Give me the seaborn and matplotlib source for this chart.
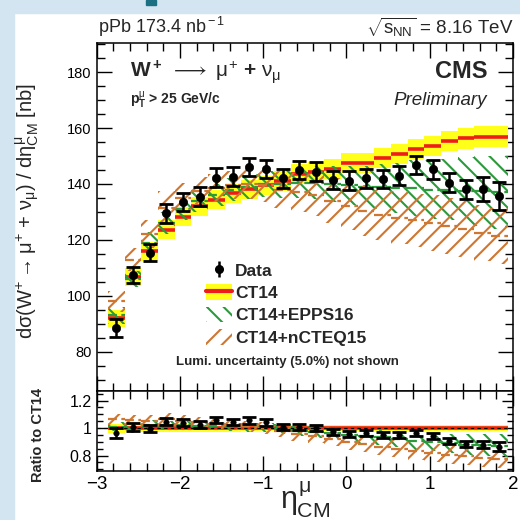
import numpy as np
import pandas as pd
import seaborn as sns
import matplotlib.pyplot as plt
from matplotlib.patches import Patch, Rectangle
from matplotlib.lines import Line2D
from matplotlib.ticker import MultipleLocator, FixedLocator, FixedFormatter

# bin edges in eta_CM
eta_edges = [-2.865, -2.665, -2.465, -2.265, -2.065, -1.865, -1.665, -1.465, -1.265,
             -1.065, -0.865, -0.665, -0.465, -0.265, -0.065, 0.135, 0.335, 0.535,
             0.735, 0.935, 1.135, 1.335, 1.535, 1.735, 1.935]

# measured cross section [nb]
data_xs = [88.5, 107.5, 115.4, 129.5, 133.5, 135.5, 142.3, 142.6, 146.0, 145.4, 142.0, 145.0,
           144.4, 141.4, 141.2, 142.0, 141.8, 143.0, 146.8, 145.2, 140.5, 138.1, 138.1, 135.7]
data_err = [3.3, 3.0, 3.0, 3.3, 3.3, 3.3, 3.3, 3.3, 3.3, 3.3, 3.3, 3.3,
            3.3, 3.3, 3.3, 3.3, 3.3, 3.3, 3.3, 3.3, 3.3, 3.5, 4.3, 5.0]

# CT14
ct14 = [92.0, 106.7, 116.0, 123.6, 128.3, 132.1, 134.3, 136.7, 138.1, 139.5, 141.0, 143.6,
        144.4, 145.4, 147.4, 147.4, 149.2, 150.6, 152.4, 153.6, 155.4, 156.3, 156.9, 156.9]
ct14_err = [3.0, 3.2, 3.4, 3.4, 3.4, 3.4, 3.4, 3.4, 3.4, 3.4, 3.5, 3.5,
            3.5, 3.5, 3.6, 3.6, 3.6, 3.6, 3.6, 3.6, 3.7, 3.7, 3.7, 3.7]

# CT14+EPPS16
epps16 = [93.0, 106.0, 119.0, 126.0, 131.0, 134.0, 136.0, 138.0, 139.0, 140.0, 140.0, 140.5,
          140.5, 140.0, 139.5, 139.0, 139.0, 138.5, 138.5, 138.0, 138.0, 137.5, 137.5, 137.0]
epps16_err = [3.0, 3.0, 4.0, 4.0, 4.0, 4.0, 4.0, 4.0, 4.5, 4.5, 5.0, 5.5,
              6.0, 6.5, 7.0, 7.5, 8.0, 9.0, 10.0, 10.5, 11.0, 12.0, 12.5, 13.0]

# CT14+nCTEQ15
ncteq15 = [98.0, 113.0, 122.0, 131.5, 135.0, 137.5, 138.5, 139.5, 140.0, 139.5, 138.0, 137.0,
           136.0, 134.0, 132.0, 130.5, 129.0, 128.0, 127.0, 126.0, 125.0, 124.0, 122.5, 121.5]
ncteq15_err = [3.6, 4.2, 5.0, 6.0, 5.5, 5.0, 5.0, 5.0, 5.5, 6.0, 6.5, 7.0,
               7.5, 8.0, 8.5, 9.0, 9.0, 9.5, 9.5, 10.0, 10.0, 10.0, 10.0, 10.0]

YELLOW = "#ffff1a"
RED = "#ee1c1c"
GREEN = "#2a9a3a"
ORANGE = "#cf7630"

sns.set_style("ticks")
plt.rcParams["font.family"] = ["Liberation Sans", "DejaVu Sans"]
plt.rcParams["mathtext.fontset"] = "custom"
plt.rcParams["mathtext.rm"] = "Liberation Sans"
plt.rcParams["mathtext.it"] = "Liberation Sans"
plt.rcParams["mathtext.bf"] = "Liberation Sans:bold"
plt.rcParams["hatch.linewidth"] = 1.5

edges = np.array(eta_edges)
centers = 0.5 * (edges[:-1] + edges[1:])
df = pd.DataFrame({"eta": centers, "xs": data_xs, "err": data_err, "ct14": ct14,
                   "ct14_err": ct14_err, "epps": epps16, "epps_err": epps16_err,
                   "ncteq": ncteq15, "ncteq_err": ncteq15_err})
df["ratio"] = df["xs"] / df["ct14"]
df["ratio_err"] = df["err"] / df["ct14"]

fig = plt.figure(figsize=(5.2, 5.2), dpi=100)
fig.patches.append(Rectangle((0, 0), 14 / 520, 1, transform=fig.transFigure,
                             color="#d2e5f1", zorder=-10))
fig.patches.append(Rectangle((0, 1 - 13 / 520), 1, 13 / 520, transform=fig.transFigure,
                             color="#d2e5f1", zorder=-10))
fig.patches.append(Rectangle((146 / 520, 1 - 5 / 520), 10 / 520, 5 / 520,
                             transform=fig.transFigure, color="#1b6f82", zorder=-9))

ax1 = fig.add_axes([96.7 / 520, 1 - 391 / 520, 416.3 / 520, 348 / 520])
ax2 = fig.add_axes([96.7 / 520, 1 - 470.7 / 520, 416.3 / 520, 79.7 / 520])


def step(v):
    v = np.asarray(v, dtype=float)
    return np.append(v, v[-1])


def draw_bands(ax, c, ce, e, ee, n, ne):
    ax.fill_between(edges, step(c - ce), step(c + ce), step="post", color=YELLOW, lw=0, zorder=1)
    ax.hlines(c, edges[:-1], edges[1:], color=RED, lw=2.6, zorder=2)
    ax.fill_between(edges, step(e - ee), step(e + ee), step="post", facecolor="none",
                    edgecolor=GREEN, hatch="\\\\", lw=0, zorder=3)
    ax.hlines(e, edges[:-1], edges[1:], color=GREEN, lw=1.6, ls=(0, (4, 2)), zorder=3)
    ax.fill_between(edges, step(n - ne), step(n + ne), step="post", facecolor="none",
                    edgecolor=ORANGE, hatch="//", lw=0, zorder=4)
    ax.hlines(n, edges[:-1], edges[1:], color=ORANGE, lw=1.6, ls=(0, (4, 2)), zorder=4)


# top panel
c = df["ct14"].values
draw_bands(ax1, c, df["ct14_err"].values, df["epps"].values, df["epps_err"].values,
           df["ncteq"].values, df["ncteq_err"].values)
ax1.errorbar(df["eta"], df["xs"], yerr=df["err"], fmt="none", ecolor="black",
             elinewidth=1.8, capsize=5, capthick=2, zorder=6)
sns.scatterplot(data=df, x="eta", y="xs", ax=ax1, color="black", s=36,
                edgecolor="black", zorder=7, legend=False)

# ratio panel
draw_bands(ax2, c / c, df["ct14_err"].values / c, df["epps"].values / c,
           df["epps_err"].values / c, df["ncteq"].values / c, df["ncteq_err"].values / c)
ax2.axhline(1, color="black", lw=0.8, ls=(0, (3, 3)), zorder=5)
ax2.errorbar(df["eta"], df["ratio"], yerr=df["ratio_err"], fmt="none", ecolor="black",
             elinewidth=1.8, capsize=5, capthick=2, zorder=6)
sns.scatterplot(data=df, x="eta", y="ratio", ax=ax2, color="black", s=16,
                edgecolor="black", zorder=7, legend=False)

for ax in (ax1, ax2):
    ax.set_xlim(-3, 2)
    ax.xaxis.set_major_locator(MultipleLocator(1))
    ax.xaxis.set_minor_locator(MultipleLocator(0.2))
    ax.tick_params(which="both", direction="in", top=True, right=True, colors="black")
    ax.tick_params(which="major", length=11, width=1)
    ax.tick_params(which="minor", length=5.5, width=1)
    ax.set_xlabel("")
    ax.set_ylabel("")
    for s in ax.spines.values():
        s.set_linewidth(1.1)
        s.set_color("black")

ax1.set_ylim(66, 190.4)
ax1.yaxis.set_major_locator(MultipleLocator(20))
ax1.yaxis.set_minor_locator(MultipleLocator(5))
ax1.tick_params(axis="x", labelbottom=False)
ax1.tick_params(axis="y", labelsize=10.5)
ax1.yaxis.set_major_formatter(plt.FuncFormatter(lambda v, p: f"{v:.0f}" if v >= 80 else ""))

ax2.set_ylim(0.69, 1.27)
ax2.yaxis.set_major_locator(FixedLocator([0.8, 1.0, 1.2]))
ax2.yaxis.set_major_formatter(FixedFormatter(["0.8", "1", "1.2"]))
ax2.yaxis.set_minor_locator(MultipleLocator(0.05))
ax2.tick_params(axis="y", labelsize=11.5, which="major", length=8)
ax2.tick_params(axis="y", which="minor", length=4)
ax2.tick_params(axis="x", labelsize=13.5, pad=4)

# texts
fig.text(98 / 520, 1 - 27 / 520, r"pPb 173.4 nb$^{\rm -1}$", fontsize=13, va="center", ha="left")
fig.text(366 / 520, 1 - 27 / 520, r"$\sqrt{s_{\rm NN}}$ = 8.16 TeV", fontsize=13.5,
         va="center", ha="left")
ax1.text(0.08, 0.917, r"W$^{\bf +}$ $\longrightarrow$ $\mu^{+}$ + $\nu_{\mu}$", transform=ax1.transAxes,
         fontsize=15, fontweight="bold", va="center", ha="left")
ax1.text(0.08, 0.835, r"p$_{\bf T}^{\mu}$ > 25 GeV/c", transform=ax1.transAxes,
         fontsize=10, fontweight="bold", va="center", ha="left")
ax1.text(0.938, 0.917, "CMS", transform=ax1.transAxes, fontsize=17, fontweight="bold",
         va="center", ha="right")
ax1.text(0.938, 0.835, "Preliminary", transform=ax1.transAxes, fontsize=13.5,
         style="italic", va="center", ha="right")
ax1.text(0.457, 0.084, "Lumi. uncertainty (5.0%) not shown", transform=ax1.transAxes,
         fontsize=9.5, fontweight="semibold", va="center", ha="center")

h_data = (Line2D([], [], color="black", marker="|", ms=11, mew=1.8, ls="none"),
          Line2D([], [], color="black", marker="o", ms=5.5, ls="none"))
h_ct14 = (Patch(facecolor=YELLOW, lw=0), Line2D([], [], color=RED, lw=3))
h_epps = Patch(facecolor="none", edgecolor=GREEN, hatch="\\\\", lw=0)
h_ncteq = Patch(facecolor="none", edgecolor=ORANGE, hatch="//", lw=0)
ax1.legend([h_data, h_ct14, h_epps, h_ncteq], ["Data", "CT14", "CT14+EPPS16", "CT14+nCTEQ15"],
           loc="upper left", bbox_to_anchor=(0.245, 0.39), frameon=False,
           prop={"weight": "bold", "size": 12.5}, handlelength=1.5, handleheight=1.0,
           handletextpad=0.2, labelspacing=0.32, borderaxespad=0)

fig.text(28 / 520, 1 - 211 / 520,
         r"d$\sigma$(W$^{+}$$\rightarrow$$\mu^{+}$ + $\nu_{\mu}$) / d$\eta^{\mu}_{\rm CM}$ [nb]",
         rotation=90, fontsize=14.5, va="center", ha="center")
fig.text(38 / 520, 1 - 435 / 520, "Ratio to CT14", rotation=90, fontsize=10.5,
         fontweight="bold", va="center", ha="center")
fig.text(305 / 520, 1 - 500 / 520, r"$\eta^{\mu}_{\rm CM}$", fontsize=22, va="center", ha="center")

fig.savefig("out.png", dpi=100, facecolor="white")
